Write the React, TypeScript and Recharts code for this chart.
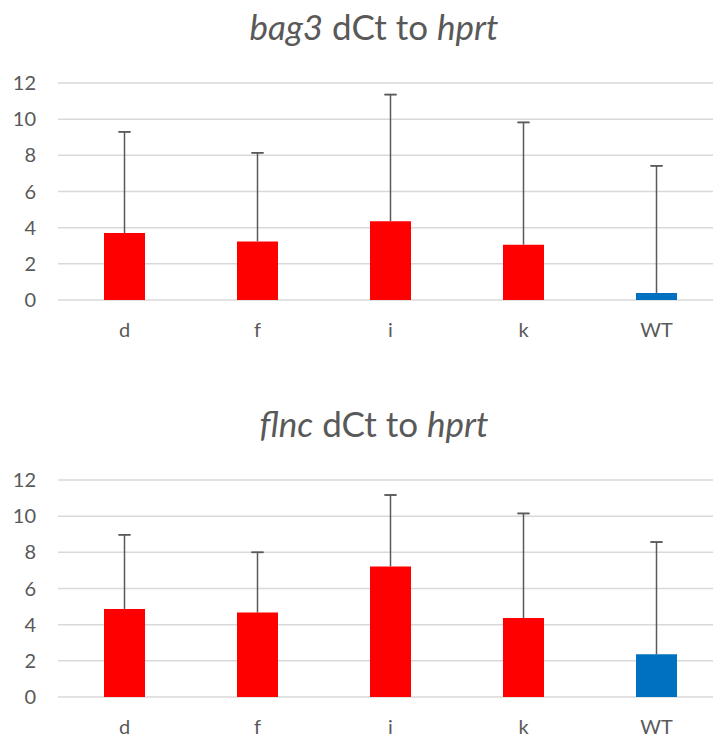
import { BarChart, Bar, XAxis, YAxis, CartesianGrid, ErrorBar, Cell } from 'recharts';

// values
const categories = ['d', 'f', 'i', 'k', 'WT'];
const bag3Means = [3.7, 3.24, 4.36, 3.06, 0.39];
const bag3Err = [5.6, 4.9, 7.0, 6.76, 7.03];
const flncMeans = [4.87, 4.67, 7.22, 4.37, 2.36];
const flncErr = [4.1, 3.33, 3.95, 5.78, 6.21];
const barColors = ['#ff0000', '#ff0000', '#ff0000', '#ff0000', '#0070c0'];
const yTicks = [0, 2, 4, 6, 8, 10, 12];

const FONT = 'Lato, "Open Sans", sans-serif';
const GREY = '#595959';

function Panel({ gene, means, errs, top }: { gene: string; means: number[]; errs: number[]; top: number }) {
  // plus-only error bars: the stem hangs off the bar, the cap sits on an invisible bar at mean + err
  const data = categories.map((name, i) => ({
    name,
    mean: means[i],
    err: [0, errs[i]],
    upper: means[i] + errs[i],
    cap: [0, 0],
  }));
  return (
    <div style={{ position: 'absolute', left: 0, top, width: 713, height: 345 }}>
      <div style={{ position: 'absolute', left: 0, top: 0 }}>
        <BarChart
          width={730}
          height={340}
          data={data}
          margin={{ top: 83, right: 7, bottom: 0, left: 0 }}
          barSize={41}
          barGap={-41}
        >
          <CartesianGrid vertical={false} stroke="#d9d9d9" strokeWidth={1.5} />
          <XAxis
            dataKey="name"
            axisLine={false}
            tickLine={false}
            tickMargin={17}
            height={40}
            tick={{ fill: GREY, fontSize: 20, fontFamily: FONT }}
          />
          <YAxis
            domain={[0, 12]}
            ticks={yTicks}
            width={58}
            axisLine={false}
            tickLine={false}
            tickMargin={16}
            tick={{ fill: GREY, fontSize: 20, fontFamily: FONT }}
          />
          <Bar dataKey="mean" isAnimationActive={false}>
            {data.map((d, i) => (
              <Cell key={`c-${i}`} fill={barColors[i]} />
            ))}
            <ErrorBar dataKey="err" width={0} stroke={GREY} strokeWidth={1.5} />
          </Bar>
          <Bar dataKey="upper" fill="transparent" isAnimationActive={false}>
            <ErrorBar dataKey="cap" width={6} stroke={GREY} strokeWidth={1.5} />
          </Bar>
        </BarChart>
      </div>
      <div
        style={{
          position: 'absolute',
          left: 0,
          top: 9,
          width: 748,
          textAlign: 'center',
          fontSize: 35,
          lineHeight: 1,
          color: GREY,
          fontFamily: FONT,
          whiteSpace: 'nowrap',
        }}
      >
        <i>{gene}</i> dCt to <i>hprt</i>
      </div>
    </div>
  );
}

export default function App() {
  return (
    <div style={{ position: 'absolute', left: 0, top: 0, width: 713, height: 740, overflow: 'hidden', background: '#fff' }}>
      <Panel gene="bag3" means={bag3Means} errs={bag3Err} top={0} />
      <Panel gene="flnc" means={flncMeans} errs={flncErr} top={397} />
    </div>
  );
}
